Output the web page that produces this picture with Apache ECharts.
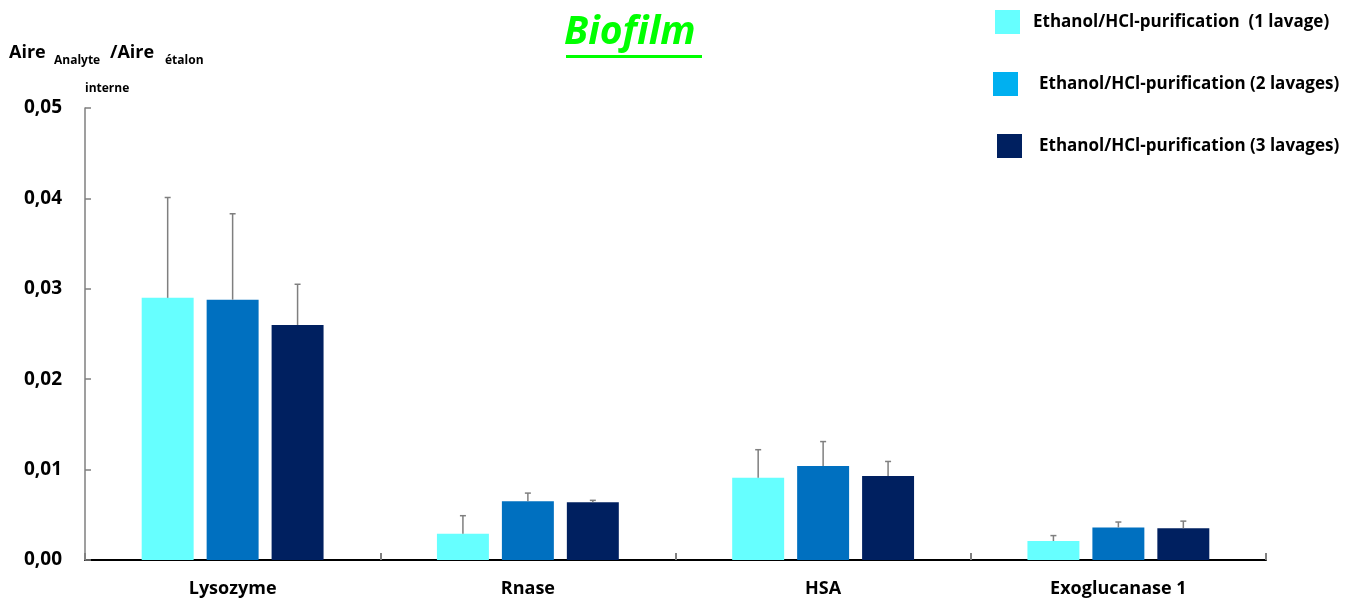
<!DOCTYPE html>
<html>
<head>
<meta charset="utf-8">
<script src="https://cdn.jsdelivr.net/npm/echarts@6/dist/echarts.min.js"></script>
<style>html,body{margin:0;padding:0;background:#fff}#c{width:1357px;height:602px}</style>
</head>
<body>
<div id="c"></div>
<script>
const categories = ['Lysozyme', 'Rnase', 'HSA', 'Exoglucanase 1'];
const seriesNames = ['Ethanol/HCl-purification  (1 lavage)', 'Ethanol/HCl-purification (2 lavages)', 'Ethanol/HCl-purification (3 lavages)'];
const lavage1 = [0.0290, 0.0029, 0.0091, 0.0021];
const lavage2 = [0.0288, 0.0065, 0.0104, 0.0036];
const lavage3 = [0.0260, 0.0064, 0.0093, 0.0035];
const err1 = [0.0111, 0.0020, 0.0031, 0.0006];
const err2 = [0.0095, 0.0009, 0.0027, 0.0006];
const err3 = [0.0045, 0.0002, 0.0016, 0.0008];
const yTicks = [0, 0.01, 0.02, 0.03, 0.04, 0.05];

const barColors = ['#66FFFF', '#0070C0', '#002060'];
const legendColors = ['#66FFFF', '#00B0F0', '#002060'];
const FONT = '"Open Sans", "Liberation Sans", sans-serif';
const BW = 0.176;          // bar width fraction of band
const GAP = 0.25;          // gap as fraction of bar width
const offs = [-1, 0, 1].map(k => k * BW * (1 + GAP));

const values = [lavage1, lavage2, lavage3];
const errs = [err1, err2, err3];

const chart = echarts.init(document.getElementById('c'), null, {renderer: 'canvas'});

function errSeries(k) {
  return {
    type: 'custom',
    z: 10,
    silent: true,
    data: categories.map((c, i) => [i, values[k][i], errs[k][i]]),
    encode: {x: 0, y: 1},
    renderItem: function (params, api) {
      const i = api.value(0), v = api.value(1), e = api.value(2);
      const band = api.size([1, 0])[0];
      const p0 = api.coord([i, v]);
      const p1 = api.coord([i, v + e]);
      const x = p0[0] + offs[k] * band;
      const st = {stroke: '#7F7F7F', lineWidth: 1.5};
      return {
        type: 'group',
        children: [
          {type: 'line', shape: {x1: x, y1: p0[1], x2: x, y2: p1[1]}, style: st},
          {type: 'line', shape: {x1: x - 3, y1: p1[1], x2: x + 3, y2: p1[1]}, style: st}
        ]
      };
    }
  };
}

function mkLegend(k, left, top, pad) {
  return {
    show: true,
    left: left, top: top,
    orient: 'vertical',
    icon: 'rect',
    itemWidth: 25, itemHeight: 24,
    selectedMode: false,
    data: [{name: seriesNames[k], itemStyle: {color: legendColors[k]}}],
    textStyle: {fontFamily: FONT, fontWeight: 'bold', fontSize: 17, color: '#000', padding: [0, 0, 0, pad]}
  };
}

const option = {
  backgroundColor: '#fff',
  animation: false,
  grid: {left: 85, right: 91, top: 108, bottom: 42, containLabel: false},
  legend: [
    mkLegend(0, 990, 5, 8),
    mkLegend(1, 988, 67, 16),
    mkLegend(2, 992, 129, 12)
  ],
  xAxis: {
    type: 'category',
    data: categories,
    boundaryGap: true,
    axisLine: {lineStyle: {color: '#000', width: 2}},
    axisTick: {show: true, inside: true, length: 7, lineStyle: {color: '#808080', width: 2}},
    axisLabel: {fontFamily: FONT, fontWeight: 'bold', fontSize: 18, color: '#000', margin: 20}
  },
  yAxis: {
    type: 'value',
    min: yTicks[0], max: yTicks[yTicks.length - 1], interval: 0.01,
    splitLine: {show: false},
    axisLine: {show: true, lineStyle: {color: '#7F7F7F', width: 1.5}},
    axisTick: {show: true, inside: true, length: 6, lineStyle: {color: '#7F7F7F', width: 1.5}},
    axisLabel: {
      fontFamily: FONT, fontWeight: 'bold', fontSize: 19, color: '#000', margin: 23,
      formatter: v => v.toFixed(2).replace('.', ',')
    }
  },
  graphic: [
    {type: 'text', left: 564, top: 13, z: 100,
     style: {text: 'Biofilm', fontFamily: FONT, fontWeight: 'bold', fontStyle: 'italic', fontSize: 39, fill: '#00FF00'}},
    {type: 'rect', left: 566, top: 55, z: 100, shape: {width: 136, height: 3}, style: {fill: '#00FF00'}},
    {type: 'text', left: 9, top: 44, style: {text: 'Aire', fontFamily: FONT, fontWeight: 'bold', fontSize: 18, fill: '#000'}},
    {type: 'text', left: 54, top: 55, style: {text: 'Analyte', fontFamily: FONT, fontWeight: 'bold', fontSize: 12, fill: '#000'}},
    {type: 'text', left: 110, top: 44, style: {text: '/Aire', fontFamily: FONT, fontWeight: 'bold', fontSize: 18, fill: '#000'}},
    {type: 'text', left: 165, top: 55, style: {text: 'étalon', fontFamily: FONT, fontWeight: 'bold', fontSize: 12, fill: '#000'}},
    {type: 'text', left: 85, top: 83, style: {text: 'interne', fontFamily: FONT, fontWeight: 'bold', fontSize: 12, fill: '#000'}}
  ],
  series: [
    {name: seriesNames[0], type: 'bar', data: lavage1, barWidth: (BW * 100) + '%', barGap: (GAP * 100) + '%', itemStyle: {color: barColors[0]}},
    {name: seriesNames[1], type: 'bar', data: lavage2, barWidth: (BW * 100) + '%', barGap: (GAP * 100) + '%', itemStyle: {color: barColors[1]}},
    {name: seriesNames[2], type: 'bar', data: lavage3, barWidth: (BW * 100) + '%', barGap: (GAP * 100) + '%', itemStyle: {color: barColors[2]}},
    errSeries(0), errSeries(1), errSeries(2)
  ]
};
chart.setOption(option);
</script>
</body>
</html>
